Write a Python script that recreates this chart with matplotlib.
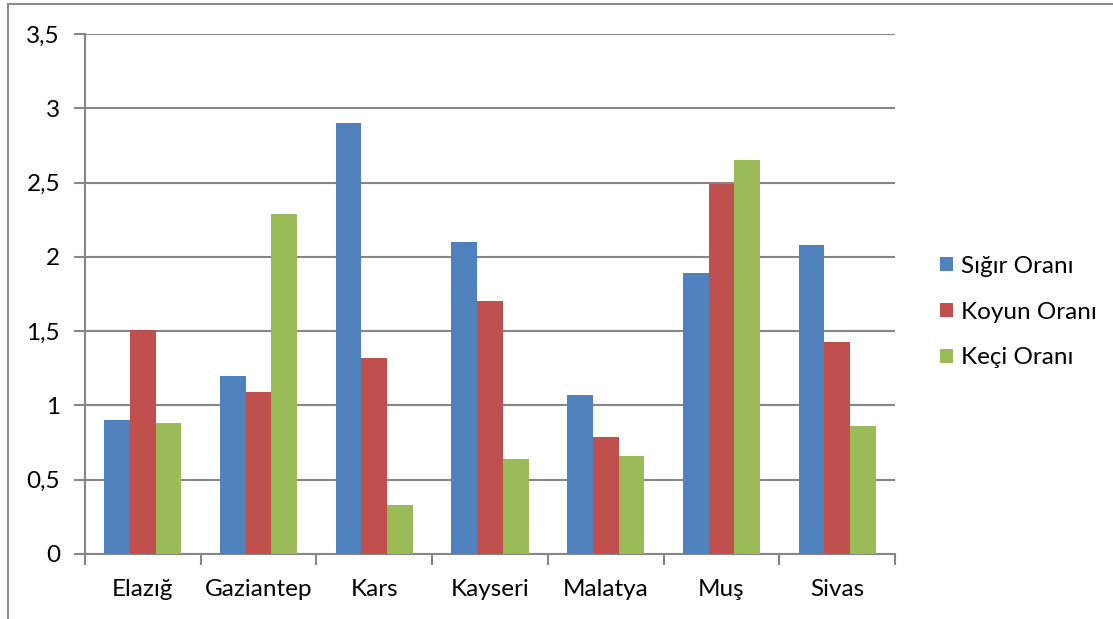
import numpy as np
import matplotlib.pyplot as plt
from matplotlib.patches import Rectangle

plt.rcParams['font.family'] = ['Lato', 'DejaVu Sans']

cities = ['Elazığ', 'Gaziantep', 'Kars', 'Kayseri', 'Malatya', 'Muş', 'Sivas']
sigir = [0.90, 1.20, 2.90, 2.10, 1.07, 1.89, 2.08]
koyun = [1.51, 1.09, 1.32, 1.70, 0.79, 2.49, 1.43]
keci = [0.88, 2.29, 0.33, 0.64, 0.66, 2.65, 0.86]
yticks = [0, 0.5, 1, 1.5, 2, 2.5, 3, 3.5]
ytick_labels = ['0', '0,5', '1', '1,5', '2', '2,5', '3', '3,5']

fig = plt.figure(figsize=(11.13, 6.19), dpi=100)
ax = fig.add_axes([85/1113, 65/619, 810/1113, 520/619])

# outer chart frame (Excel style)
fig.patches.append(Rectangle((8/1113, -0.1), 1.2, (619-4)/619 + 0.1, transform=fig.transFigure,
                             fill=False, edgecolor='#8c8c8c', linewidth=1.5))

x = np.arange(len(cities))
w = 0.222
ax.bar(x - w, sigir, w, color='#4F81BD', label='Sığır Oranı', zorder=3)
ax.bar(x, koyun, w, color='#C0504D', label='Koyun Oranı', zorder=3)
ax.bar(x + w, keci, w, color='#9BBB59', label='Keçi Oranı', zorder=3)

fs = 17.5
ax.set_xlim(-0.5, len(cities) - 0.5)
ax.set_ylim(0, 3.5)
ax.set_yticks(yticks)
ax.set_yticklabels(ytick_labels, fontsize=fs)
ax.set_xticks(x)
ax.set_xticklabels(cities, fontsize=fs)
ax.tick_params(axis='x', length=0, pad=18)
ax.set_xticks(np.arange(len(cities) + 1) - 0.5, minor=True)
ax.tick_params(axis='x', which='minor', length=8, color='#868686', width=1.5)
ax.tick_params(axis='y', length=8, color='#868686', width=1.5, pad=10)

ax.grid(axis='y', color='#868686', linewidth=1.5, zorder=0)
for s in ['top', 'right']:
    ax.spines[s].set_visible(False)
for s in ['left', 'bottom']:
    ax.spines[s].set_color('#868686')
    ax.spines[s].set_linewidth(1.5)

ax.legend(loc='center left', bbox_to_anchor=(1.035, 0.465), frameon=False, fontsize=fs,
          handlelength=0.5, handleheight=0.5, handletextpad=0.35, labelspacing=1.02,
          borderpad=0.2)

fig.savefig('out.png', dpi=100)
